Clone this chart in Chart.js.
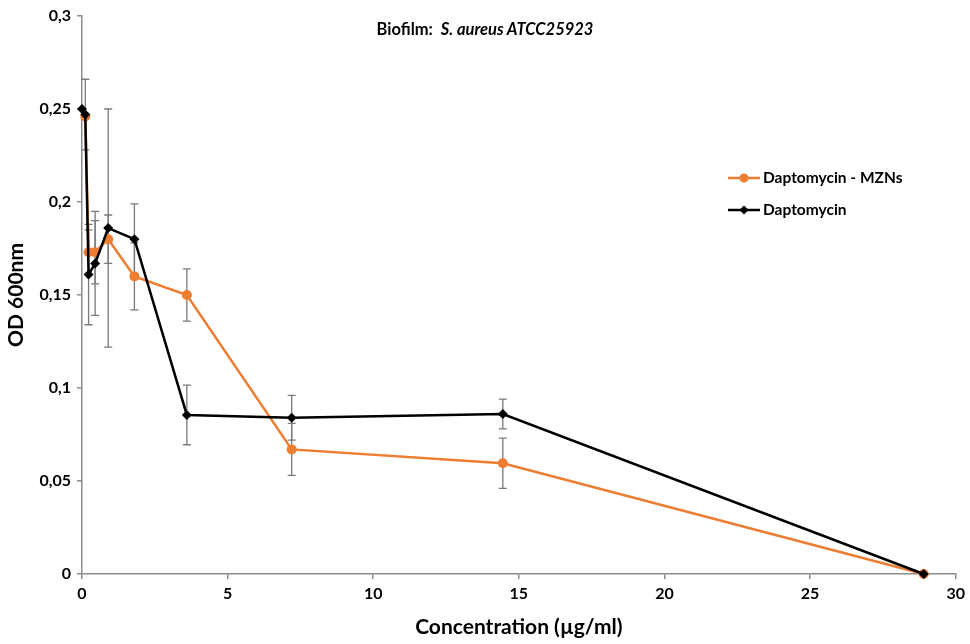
<!DOCTYPE html>
<html>
<head>
<meta charset="utf-8">
<script src="https://cdn.jsdelivr.net/npm/chart.js@4/dist/chart.umd.min.js"></script>
<style>
  body { margin: 0; background: #fff; }
  #wrap { position: relative; width: 970px; height: 644px; }
  #title { position: absolute; left: 0; width: 970px; top: 19px; text-align: center;
    font: bold 16.5px Lato, sans-serif; color: #000; }
</style>
</head>
<body>
<div id="wrap">
  <canvas id="myChart" width="970" height="644"></canvas>
  <div id="title">Biofilm:&nbsp; <i>S. aureus ATCC25923</i></div>
</div>
<script>
// values
var concBlack = [0, 0.113, 0.226, 0.45, 0.9, 1.8, 3.6, 7.2, 14.45, 28.9];
var odBlack = [0.25, 0.247, 0.161, 0.167, 0.186, 0.180, 0.0855, 0.084, 0.086, 0];
var errBlack = [0, 0.019, 0.027, 0.028, 0.064, 0.019, 0.016, 0.012, 0.008, 0];

var concOrange = [0.113, 0.226, 0.45, 0.9, 1.8, 3.6, 7.2, 14.45, 28.9];
var odOrange = [0.246, 0.173, 0.173, 0.18, 0.160, 0.150, 0.067, 0.0595, 0];
var errOrange = [0, 0.012, 0.017, 0.013, 0.018, 0.014, 0.014, 0.0135, 0];

var seriesNames = ['Daptomycin - MZNs', 'Daptomycin'];
var orange = '#ED7D31';
var axisGray = '#8c8c8c';
var fontFam = 'Lato, "Open Sans", sans-serif';

function toPoints(xs, ys) {
  var pts = [];
  for (var i = 0; i < xs.length; i++) pts.push({ x: xs[i], y: ys[i] });
  return pts;
}

// error bars drawn under the lines, through the chart scales
var errorBarPlugin = {
  id: 'errorBars',
  beforeDatasetsDraw: function(chart) {
    var ctx = chart.ctx;
    var xs = chart.scales.x, ys = chart.scales.y;
    ctx.save();
    ctx.strokeStyle = '#7a7a7a';
    ctx.lineWidth = 1.3;
    chart.data.datasets.forEach(function(ds) {
      ds.data.forEach(function(p, i) {
        var e = ds.errors[i];
        if (!e) return;
        var px = xs.getPixelForValue(p.x);
        var top = ys.getPixelForValue(p.y + e);
        var bot = ys.getPixelForValue(p.y - e);
        ctx.beginPath();
        ctx.moveTo(px, top); ctx.lineTo(px, bot);
        ctx.moveTo(px - 4, top); ctx.lineTo(px + 4, top);
        ctx.moveTo(px - 4, bot); ctx.lineTo(px + 4, bot);
        ctx.stroke();
      });
    });
    ctx.restore();
  }
};

// legend sitting inside the plot, on the right
var innerLegend = {
  id: 'innerLegend',
  afterDraw: function(chart) {
    var ctx = chart.ctx;
    var x0 = 728, y0 = 178, gap = 32;
    ctx.save();
    chart.data.datasets.forEach(function(ds, i) {
      var y = y0 + i * gap;
      ctx.strokeStyle = ds.borderColor;
      ctx.lineWidth = 2.5;
      ctx.beginPath();
      ctx.moveTo(x0, y); ctx.lineTo(x0 + 32, y);
      ctx.stroke();
      ctx.fillStyle = ds.borderColor;
      ctx.beginPath();
      if (ds.pointStyle === 'rectRot') {
        ctx.moveTo(x0 + 16, y - 4.5); ctx.lineTo(x0 + 20.5, y);
        ctx.lineTo(x0 + 16, y + 4.5); ctx.lineTo(x0 + 11.5, y);
      } else {
        ctx.arc(x0 + 16, y, 4.5, 0, Math.PI * 2);
      }
      ctx.fill();
      ctx.fillStyle = '#000';
      ctx.font = 'bold 15.5px ' + fontFam;
      ctx.textBaseline = 'middle';
      ctx.fillText(ds.label, x0 + 35, y);
    });
    ctx.restore();
  }
};

function commaLabel(v) {
  var r = Math.round(v * 100) / 100;
  return r.toString().replace('.', ',');
}

var config = {
  type: 'line',
  data: {
    datasets: [{
      label: seriesNames[0],
      data: toPoints(concOrange, odOrange),
      errors: errOrange,
      order: 1,
      borderColor: orange,
      backgroundColor: orange,
      borderWidth: 2.5,
      pointStyle: 'circle',
      pointRadius: 5,
      pointBorderWidth: 0,
      tension: 0
    }, {
      label: seriesNames[1],
      data: toPoints(concBlack, odBlack),
      errors: errBlack,
      order: 0,
      borderColor: '#000000',
      backgroundColor: '#000000',
      borderWidth: 2.5,
      pointStyle: 'rectRot',
      pointRadius: 5,
      pointBorderWidth: 0,
      tension: 0
    }]
  },
  options: {
    responsive: false,
    animation: false,
    clip: false,
    layout: { padding: { top: 16, right: 11, left: 0, bottom: 0 } },
    plugins: { legend: { display: false }, tooltip: { enabled: false } },
    scales: {
      x: {
        type: 'linear',
        min: 0, max: 30,
        afterFit: function(s) { s.height = 70; },
        border: { color: axisGray, width: 1.5 },
        grid: { drawOnChartArea: false, color: axisGray, tickLength: 5, lineWidth: 1.5 },
        ticks: { stepSize: 5, color: '#000', padding: 5, maxRotation: 0,
          font: { family: fontFam, size: 16, weight: 'bold' } },
        title: { display: true, text: 'Concentration (µg/ml)', color: '#000',
          font: { family: fontFam, size: 21, weight: 'bold' }, padding: { top: 4 } }
      },
      y: {
        min: 0, max: 0.3,
        afterFit: function(s) { s.width = 82; },
        border: { color: axisGray, width: 1.5 },
        grid: { drawOnChartArea: false, color: axisGray, tickLength: 5, lineWidth: 1.5 },
        ticks: { stepSize: 0.05, color: '#000', padding: 6,
          font: { family: fontFam, size: 16, weight: 'bold' },
          callback: function(v) { return commaLabel(v); } },
        title: { display: true, text: 'OD 600nm', color: '#000',
          font: { family: fontFam, size: 21, weight: 'bold' }, padding: { bottom: 2 } }
      }
    }
  },
  plugins: [errorBarPlugin, innerLegend]
};

var myChart = new Chart(document.getElementById('myChart'), config);
</script>
</body>
</html>
